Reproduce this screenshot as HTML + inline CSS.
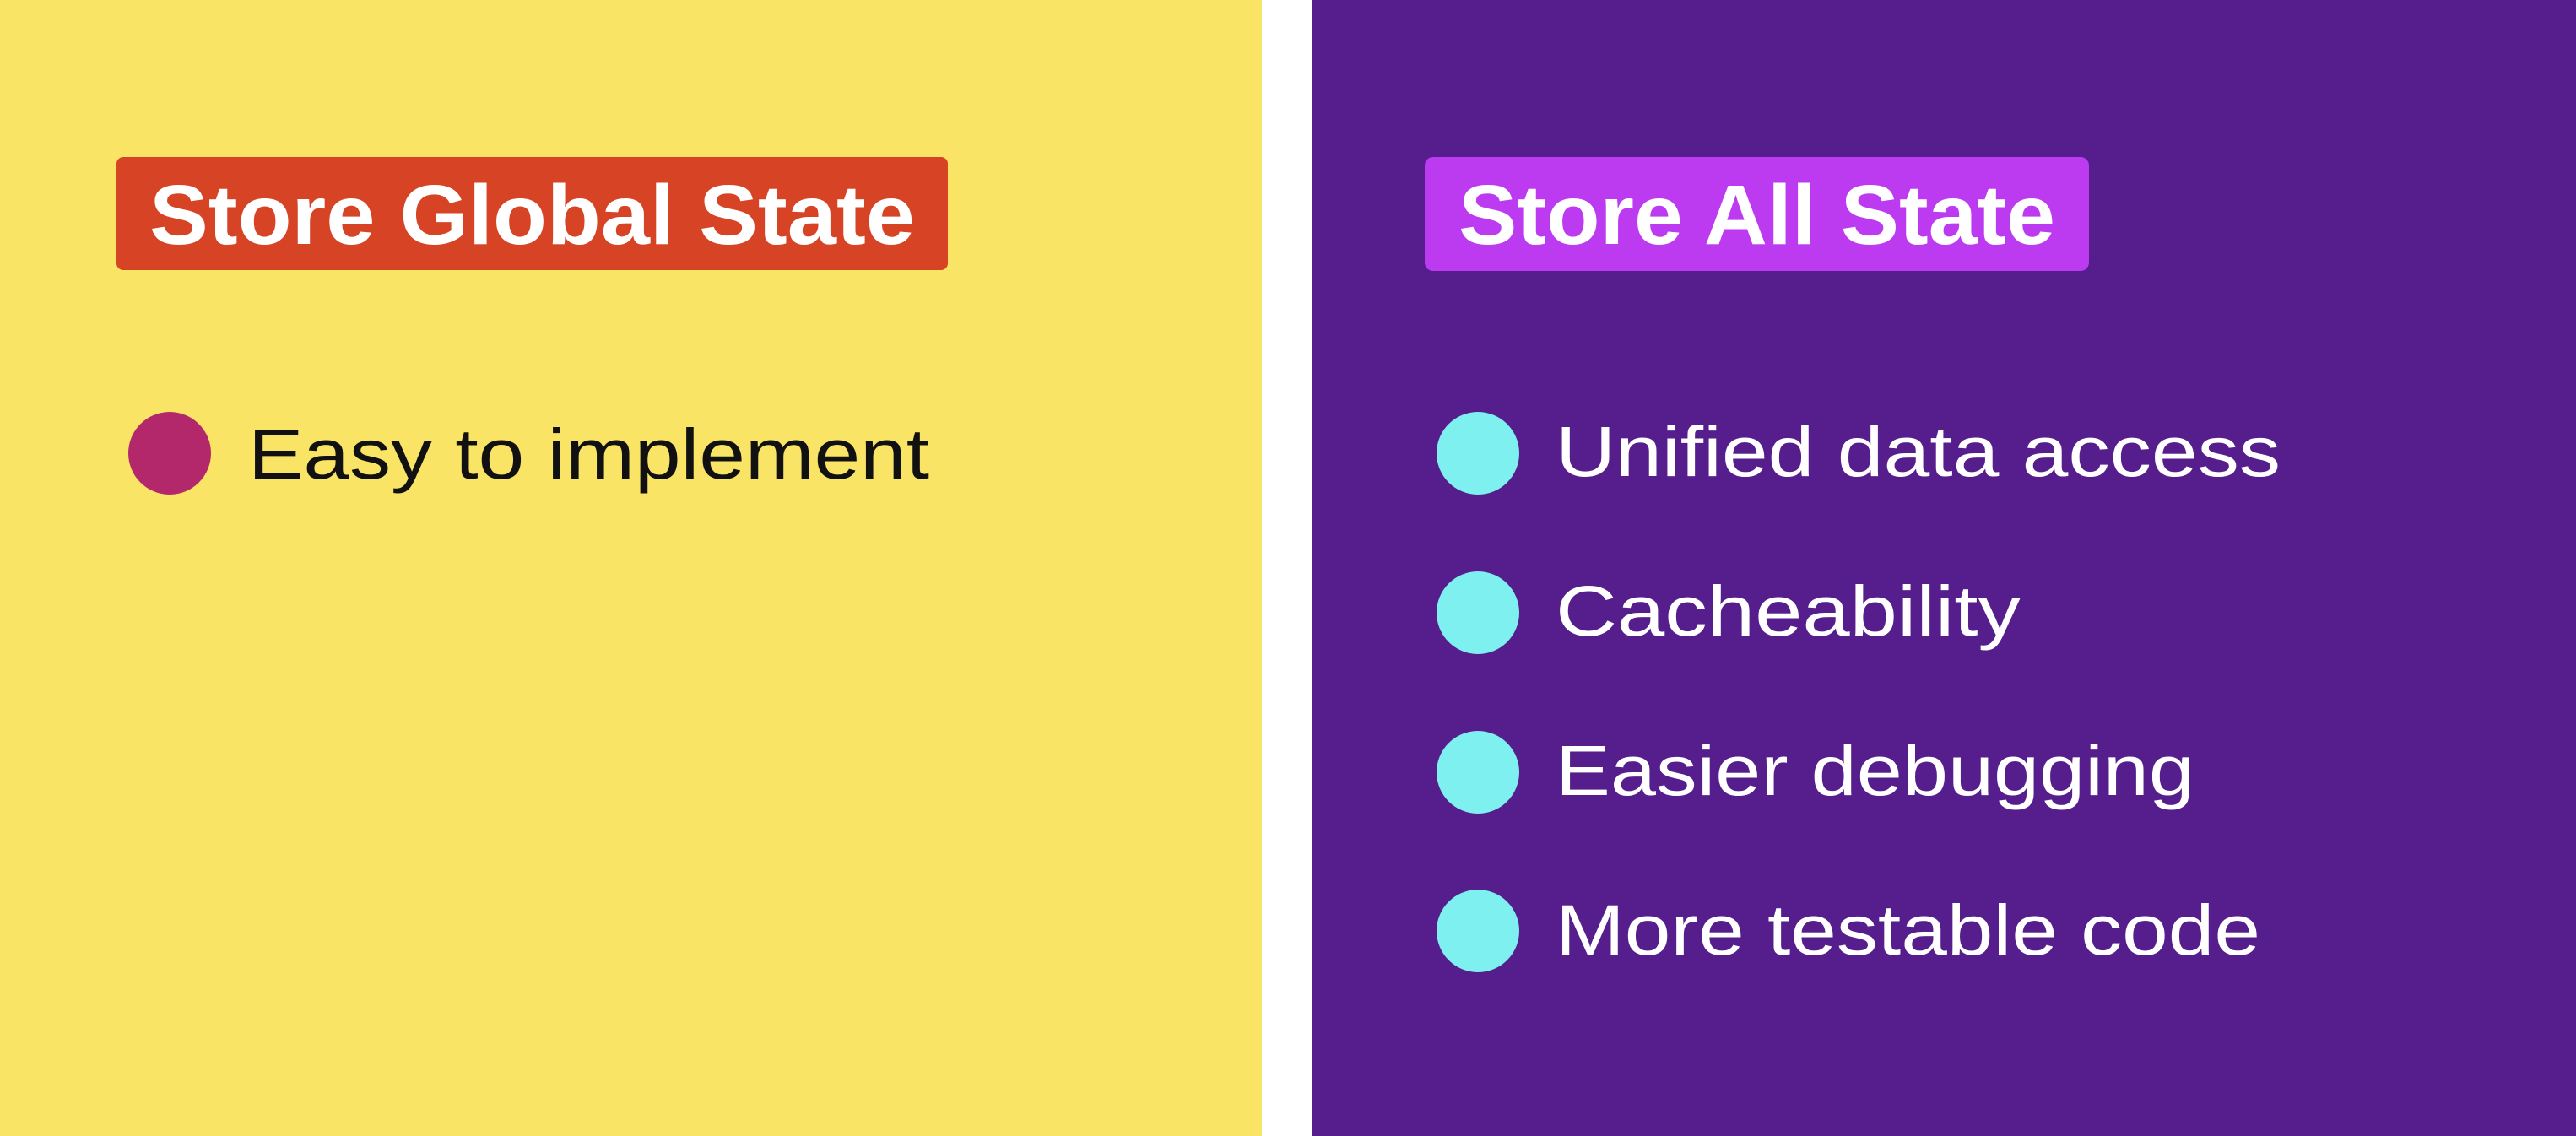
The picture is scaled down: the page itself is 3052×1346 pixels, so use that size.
<!DOCTYPE html>
<html><head><meta charset="utf-8"><style>
html,body{margin:0;padding:0;width:3052px;height:1346px;overflow:hidden;background:#fff}
svg{display:block}
</style></head><body>
<svg width="3052" height="1346" viewBox="0 0 3052 1346" xmlns="http://www.w3.org/2000/svg" font-family="Liberation Sans, sans-serif">
<rect x="0" y="0" width="1495" height="1346" fill="#FAE466"/>
<rect x="1555" y="0" width="1497" height="1346" fill="#561E8C"/>
<rect x="138" y="186" width="985" height="134" rx="8" fill="#D64325"/>
<text x="177" y="289" font-size="100" font-weight="bold" fill="#fff" textLength="907" lengthAdjust="spacingAndGlyphs">Store Global State</text>
<rect x="1688" y="186" width="787" height="135" rx="10" fill="#BC3BF0"/>
<text x="1728" y="289" font-size="100" font-weight="bold" fill="#fff" textLength="707" lengthAdjust="spacingAndGlyphs">Store All State</text>
<circle cx="201" cy="537" r="49" fill="#B3286A"/>
<text x="294" y="567" font-size="84" fill="#111" textLength="807" lengthAdjust="spacingAndGlyphs">Easy to implement</text>
<g fill="#7FF0F0">
<circle cx="1751" cy="537" r="49"/>
<circle cx="1751" cy="726" r="49"/>
<circle cx="1751" cy="915" r="49"/>
<circle cx="1751" cy="1103" r="49"/>
</g>
<g fill="#fff" font-size="84">
<text x="1843" y="564" textLength="859" lengthAdjust="spacingAndGlyphs">Unified data access</text>
<text x="1843" y="753" textLength="551" lengthAdjust="spacingAndGlyphs">Cacheability</text>
<text x="1843" y="942" textLength="757" lengthAdjust="spacingAndGlyphs">Easier debugging</text>
<text x="1843" y="1131" textLength="835" lengthAdjust="spacingAndGlyphs">More testable code</text>
</g>
</svg>
</body></html>
